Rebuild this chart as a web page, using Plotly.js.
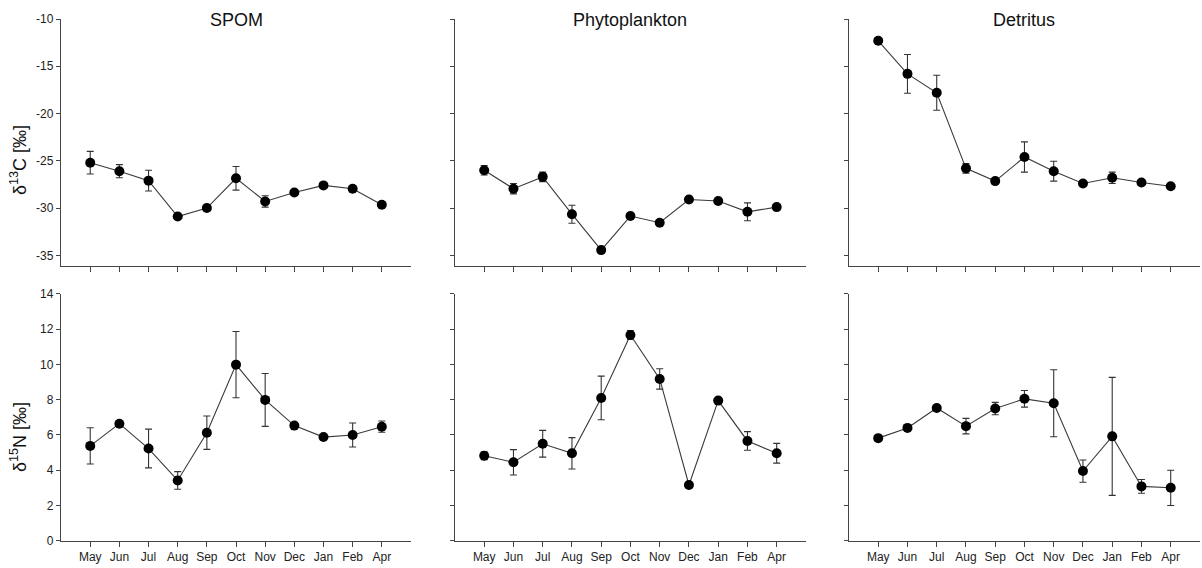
<!DOCTYPE html>
<html>
<head>
<meta charset="utf-8">
<script src="https://cdn.plot.ly/plotly-3.0.1.min.js"></script>
<style>html,body{margin:0;padding:0;background:#fff;}#chart{width:1202px;height:568px;}</style>
</head>
<body>
<div id="chart"></div>
<script>
const months = ["May","Jun","Jul","Aug","Sep","Oct","Nov","Dec","Jan","Feb","Apr"];
const panelTitles = ["SPOM","Phytoplankton","Detritus"];

// δ13C
const spomC     = [-25.2,-26.1,-27.1,-30.9,-30.0,-26.85,-29.3,-28.35,-27.6,-27.95,-29.65];
const spomCErr  = [1.2,0.7,1.1,0,0,1.25,0.6,0,0,0,0];
const phytoC    = [-26.0,-27.95,-26.7,-30.65,-34.45,-30.85,-31.55,-29.1,-29.25,-30.4,-29.9];
const phytoCErr = [0.5,0.55,0.5,0.95,0,0,0,0,0,0.95,0];
const detC      = [-12.3,-15.8,-17.8,-25.8,-27.15,-24.6,-26.1,-27.4,-26.8,-27.3,-27.7];
const detCErr   = [0.2,2.05,1.85,0.5,0,1.6,1.05,0,0.6,0,0];

// δ15N
const spomN     = [5.38,6.64,5.23,3.42,6.13,9.99,7.99,6.53,5.88,6.0,6.47];
const spomNErr  = [1.03,0.1,1.1,0.5,0.95,1.88,1.5,0.1,0,0.68,0.32];
const phytoN    = [4.82,4.45,5.5,4.96,8.1,11.67,9.18,3.16,7.95,5.66,4.96];
const phytoNErr = [0.23,0.72,0.76,0.89,1.24,0.25,0.58,0,0,0.53,0.56];
const detN      = [5.82,6.4,7.53,6.5,7.5,8.05,7.8,3.95,5.92,3.08,3.0];
const detNErr   = [0.15,0,0,0.44,0.35,0.47,1.9,0.63,3.35,0.39,1.0];

const cRange = [-36.1,-10];
const nRange = [0,14];
const cTicks = [-35,-30,-25,-20,-15,-10];
const cTickLabels = ["-35","-30","-25","-20","-15","-10"];
const nTicks = [0,2,4,6,8,10,12,14];
const nTickLabels = ["0","2","4","6","8","10","12","14"];

const xDomains = [[0.0508,0.3419],[0.3785,0.6705],[0.7063,0.9983]];
const yDomains = [[0.5322,0.9665],[0.0481,0.4824]];

const rows = [
  [[spomC,spomCErr],[phytoC,phytoCErr],[detC,detCErr]],
  [[spomN,spomNErr],[phytoN,phytoNErr],[detN,detNErr]]
];

const lineCol = "#3a3a3a";
const traces = [];
const layout = {
  width:1202, height:568,
  margin:{l:0,r:0,t:0,b:0},
  paper_bgcolor:"#fff", plot_bgcolor:"rgba(0,0,0,0)",
  showlegend:false,
  font:{family:"Liberation Sans, Arial, sans-serif", color:"#222", size:12},
  annotations:[]
};

let k = 0;
for (let r = 0; r < 2; r++) {
  for (let c = 0; c < 3; c++) {
    k++;
    const xa = "x" + (k===1?"":k), ya = "y" + (k===1?"":k);
    const xName = "xaxis" + (k===1?"":k), yName = "yaxis" + (k===1?"":k);
    const [vals, errs] = rows[r][c];
    traces.push({
      type:"scatter", mode:"lines+markers",
      x: months, y: vals, xaxis: xa, yaxis: ya,
      line:{color:lineCol, width:1.1},
      marker:{color:"#000", size:10},
      error_y:{type:"data", array: errs, visible:true, color:"#333", thickness:1.1, width:3.5},
      hoverinfo:"x+y"
    });
    layout[xName] = {
      domain: xDomains[c], anchor: ya,
      type:"category", categoryorder:"array", categoryarray: months,
      range:[-1,11], showgrid:false, zeroline:false,
      showline:true, linecolor:"#444", linewidth:1.2,
      ticks:"outside", ticklen:5, tickcolor:"#444", tickwidth:1,
      showticklabels: r===1,
      tickfont:{size:12, color:"#222"}
    };
    layout[yName] = {
      domain: yDomains[r], anchor: xa,
      range: r===0 ? cRange : nRange,
      tickmode:"array",
      tickvals: r===0 ? cTicks : nTicks,
      ticktext: r===0 ? cTickLabels : nTickLabels,
      showgrid:false, zeroline:false,
      showline:true, linecolor:"#444", linewidth:1.2,
      ticks:"outside", ticklen:4, tickcolor:"#444", tickwidth:1,
      showticklabels: c===0,
      tickfont:{size:12, color:"#222"}
    };
    if (r===0) {
      layout.annotations.push({
        text: panelTitles[c], xref:"paper", yref:"paper",
        x:(xDomains[c][0]+xDomains[c][1])/2, y:1-20/568,
        xanchor:"center", yanchor:"middle", showarrow:false,
        font:{size:18, color:"#111"}
      });
    }
  }
}

layout.annotations.push({
  text:"δ<sup>13</sup>C [‰]", xref:"paper", yref:"paper",
  x:18/1202, y:1-160/568, xanchor:"center", yanchor:"middle",
  textangle:-90, showarrow:false, font:{size:18, color:"#111"}
});
layout.annotations.push({
  text:"δ<sup>15</sup>N [‰]", xref:"paper", yref:"paper",
  x:18/1202, y:1-437/568, xanchor:"center", yanchor:"middle",
  textangle:-90, showarrow:false, font:{size:18, color:"#111"}
});

Plotly.newPlot("chart", traces, layout, {displayModeBar:false, staticPlot:true});
</script>
</body>
</html>
